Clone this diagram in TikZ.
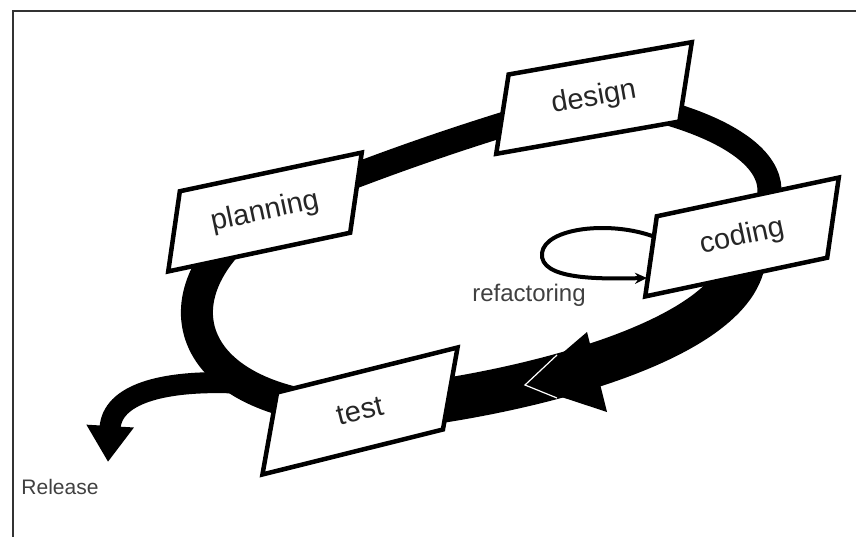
\documentclass[tikz,border=0pt]{standalone}
\usepackage{fontspec}
\setmainfont{Liberation Sans}
\usetikzlibrary{arrows.meta, backgrounds}

% tilted box with upright (rotated) label: name, position, angle, lean, text
\newcommand\stagebox[5]{%
  \filldraw[stage border, shift={#2}, rotate=#3]
    (-93+#4,-38) -- (93+#4,-38) -- (93-#4,38) -- (-93-#4,38) -- cycle;
  \node[stage text, rotate=#3] (#1) at #2 {#5};}

\begin{document}
\begin{tikzpicture}[x=1pt, y=-1pt,
    stage border/.style={draw=black, fill=white, line width=4.5pt, line join=miter},
    stage text/.style={inner sep=0pt, text=black!85, font=\fontsize{29}{34}\selectfont},
    band/.style={draw=black, line width=#1},
    label text/.style={text=black!75, font=\fontsize{#1}{#1}\selectfont}]
   \useasboundingbox (0,0) rectangle (856,536);
   \draw[line width=1.5pt, black!80] (13,560) -- (13,11) -- (870,11);

   % the four stages of the cycle
   \stagebox{planning}{(265,212)}{12}{14}{planning}
   \stagebox{design}{(594,98)}{10}{13}{design}
   \stagebox{coding}{(742,237)}{12}{14}{coding}
   \stagebox{test}{(360,411)}{14}{17}{test}

   \node[label text=24] (refac) at (529,295) {refactoring};
   \node[label text=21] (release) at (60,487) {Release};

   \coordinate (fork) at (235,383);
   \coordinate (rel) at (108,462);
   \coordinate (loop out) at (655,237);
   \coordinate (loop in) at (647,278);

   % thick loop behind the boxes
   \begin{scope}[on background layer]
     \draw[band=25pt] (planning.center) .. controls (375,165) and (485,128) .. (design.center);
     \draw[band=24pt] (design.center) .. controls (720,115) and (820,170) .. (coding.center);
     \draw[band=44pt] (coding.center) .. controls (770,330) and (540,395) .. (test.center);
     \draw[band=32pt] (test.center) .. controls (180,405) and (150,290) .. (planning.center);
     % branch out to release
     \draw[band=21pt, -{Triangle[length=36pt, width=45pt]}] (fork) .. controls (160,380) and (112,395) .. (rel);
   \end{scope}

   % big arrow head on the front of the loop
   \fill (525,385) -- (587,332) -- (607,412) -- cycle;
   \draw[white, line width=1.2pt] (557,355) -- (525,385) -- (557,398);

   % refactoring loop on coding
   \draw[line width=4pt, -{Stealth[length=12pt, width=11pt]}] (loop out) .. controls (610,220) and (545,228) .. (542,253)
     .. controls (539,280) and (600,279) .. (loop in);
\end{tikzpicture}
\end{document}
